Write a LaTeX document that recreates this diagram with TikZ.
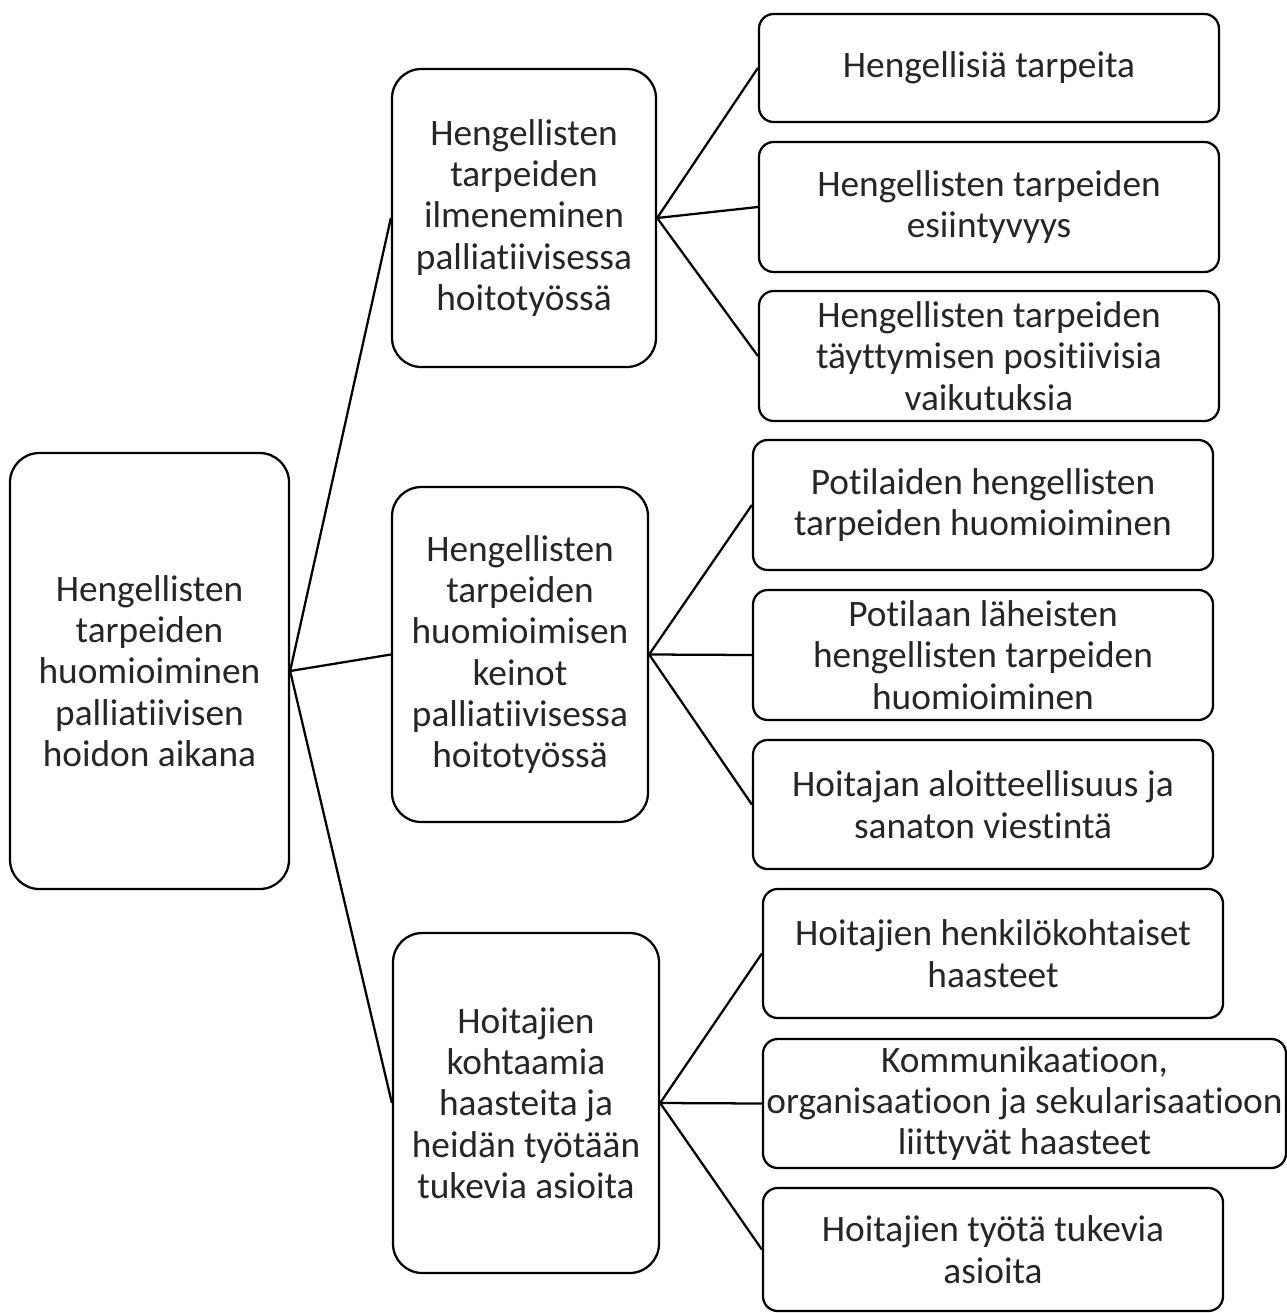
\documentclass[tikz,border=0pt]{standalone}
\usepackage{fontspec}
\setmainfont{Carlito}[Ligatures=NoCommon]
\usepackage{tikz}
\usetikzlibrary{shapes}

\definecolor{txtgray}{RGB}{38,38,38}
\tikzset{
  box/.style={draw=black, line width=1.7pt, rounded corners=22pt, align=center,
    inner sep=0pt, text=txtgray, font=\fontsize{28}{31}\selectfont},
  leaf/.style={box, rounded corners=11pt, minimum width=345pt},
}

\begin{document}
\begin{tikzpicture}[x=0.75pt, y=-0.75pt]
\useasboundingbox (0,0) rectangle (1287,1313);
					\node[box, minimum width=209.25pt, minimum height=327pt] (root) at (149.5,671) {Hengellisten\\tarpeiden\\huomioiminen\\palliatiivisen\\hoidon aikana};
					\node[box, minimum width=198pt, minimum height=223.5pt] (ilm) at (524,218) {Hengellisten\\tarpeiden\\ilmeneminen\\palliatiivisessa\\hoitotyössä};
					\node[box, minimum width=192pt, minimum height=251.25pt] (keino) at (520,654.5) {Hengellisten\\tarpeiden\\huomioimisen\\keinot\\palliatiivisessa\\hoitotyössä};
					\node[box, minimum width=199.5pt, minimum height=255pt] (haaste) at (526,1103) {Hoitajien\\kohtaamia\\haasteita ja\\heidän työtään\\tukevia asioita};
					\node[leaf, minimum height=81pt] (r1) at (989,68) {Hengellisiä tarpeita};
					\node[leaf, minimum height=97.5pt] (r2) at (989,207) {Hengellisten tarpeiden\\esiintyvyys};
					\node[leaf, minimum height=97.5pt] (r3) at (989,356) {Hengellisten tarpeiden\\täyttymisen positiivisia\\vaikutuksia};
					\node[leaf, minimum height=97.5pt] (r4) at (983,505) {Potilaiden hengellisten\\tarpeiden huomioiminen};
					\node[leaf, minimum height=97.5pt] (r5) at (983,655) {Potilaan läheisten\\hengellisten tarpeiden\\huomioiminen};
					\node[leaf, minimum height=96.75pt] (r6) at (983,804.5) {Hoitajan aloitteellisuus ja\\sanaton viestintä};
					\node[leaf, minimum height=96.75pt] (r7) at (993,953.5) {Hoitajien henkilökohtaiset\\haasteet};
					\node[leaf, minimum width=392.25pt, minimum height=96.75pt] (r8) at (1024.5,1103.5) {Kommunikaatioon,\\organisaatioon ja sekularisaatioon\\liittyvät haasteet};
					\node[leaf, minimum height=92.25pt] (r9) at (993,1249.5) {Hoitajien työtä tukevia\\asioita};
					\draw[-, line width=1.7pt] (root.east) -- (ilm.west);
					\draw[-, line width=1.7pt] (root.east) -- (keino.west);
					\draw[-, line width=1.7pt] (root.east) -- (haaste.west);
					\draw[-, line width=1.7pt] (ilm.east) -- (r1.west);
					\draw[-, line width=1.7pt] (ilm.east) -- (r2.west);
					\draw[-, line width=1.7pt] (ilm.east) -- (r3.west);
					\draw[-, line width=1.7pt] (keino.east) -- (r4.west);
					\draw[-, line width=1.7pt] (keino.east) -- (r5.west);
					\draw[-, line width=1.7pt] (keino.east) -- (r6.west);
					\draw[-, line width=1.7pt] (haaste.east) -- (r7.west);
					\draw[-, line width=1.7pt] (haaste.east) -- (r8.west);
					\draw[-, line width=1.7pt] (haaste.east) -- (r9.west);
				\end{tikzpicture}
\end{document}
